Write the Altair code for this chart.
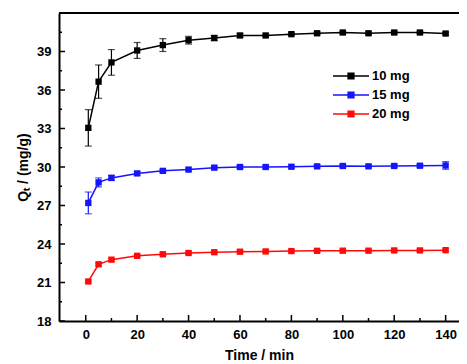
import altair as alt
import pandas as pd

time = [1, 5, 10, 20, 30, 40, 50, 60, 70, 80, 90, 100, 110, 120, 130, 140]
q10 = [33.05, 36.65, 38.15, 39.08, 39.5, 39.88, 40.05, 40.25, 40.25, 40.35, 40.42, 40.48, 40.42, 40.48, 40.48, 40.4]
e10 = [1.42, 1.3, 1.0, 0.62, 0.5, 0.3, 0.2, 0.15, 0.1, 0.1, 0.1, 0.1, 0.1, 0.1, 0.1, 0.1]
q15 = [27.2, 28.8, 29.15, 29.5, 29.7, 29.8, 29.95, 30.0, 30.0, 30.02, 30.05, 30.08, 30.05, 30.08, 30.1, 30.12]
e15 = [0.85, 0.35, 0.2, 0.15, 0.12, 0.12, 0.12, 0.12, 0.12, 0.12, 0.12, 0.12, 0.12, 0.12, 0.12, 0.3]
q20 = [21.08, 22.42, 22.78, 23.08, 23.2, 23.3, 23.36, 23.4, 23.42, 23.45, 23.47, 23.48, 23.48, 23.5, 23.5, 23.52]
e20 = [0.1] * 16

series = ["10 mg", "15 mg", "20 mg"]
colors = ["#000000", "#1414ff", "#ff0a0a"]

x_major = [0, 20, 40, 60, 80, 100, 120, 140]
x_minor = [10, 30, 50, 70, 90, 110, 130]
y_major = [18, 21, 24, 27, 30, 33, 36, 39]
y_minor = [19.5, 22.5, 25.5, 28.5, 31.5, 34.5, 37.5, 40.5]

rows = []
for name, qs, es in zip(series, [q10, q15, q20], [e10, e15, e20]):
    for t, q, e in zip(time, qs, es):
        rows.append({"t": t, "q": q, "lo": q - e, "hi": q + e, "s": name})
df = pd.DataFrame(rows)

W, H = 400, 308
FONT = "Liberation Sans"

xs = alt.Scale(domain=[-10.4, 145.2], nice=False, zero=False)
ys = alt.Scale(domain=[18, 42], nice=False, zero=False)
cs = alt.Scale(domain=series, range=colors)

sym_path = "M-2,0H-0.3M0.3,0H2M-0.33,-0.33H0.33V0.33H-0.33Z"

legend = alt.Legend(
    title=None, orient="none", legendX=282, legendY=53,
    symbolType=sym_path, symbolSize=324, symbolStrokeWidth=1.3,
    labelFont=FONT, labelFontSize=13, labelFontWeight="bold", labelColor="#000",
    labelOffset=11, rowPadding=2, padding=0,
)

base = alt.Chart(df)

x_enc = alt.X("t:Q", scale=xs, axis=alt.Axis(
    values=x_major, title="Time / min", ticks=False, domainWidth=2, domainColor="#000",
    labelFont=FONT, labelFontSize=13, labelFontWeight="bold", labelColor="#000",
    labelPadding=7, titleFont=FONT, titleFontSize=14, titleFontWeight="bold",
    titleColor="#000", titlePadding=7, grid=False))
y_enc = alt.Y("q:Q", scale=ys, axis=alt.Axis(
    values=y_major, title="Qₜ / (mg/g)", ticks=False, domainWidth=2, domainColor="#000",
    labelFont=FONT, labelFontSize=13, labelFontWeight="bold", labelColor="#000",
    labelPadding=8, titleFont=FONT, titleFontSize=14, titleFontWeight="bold",
    titleColor="#000", titlePadding=6, grid=False))

err = base.mark_rule(strokeWidth=1.2).encode(
    x="t:Q", y="lo:Q", y2="hi:Q",
    color=alt.Color("s:N", scale=cs, legend=None))
caps_lo = base.mark_tick(thickness=1.2, size=7, orient="horizontal").encode(
    x="t:Q", y="lo:Q", color=alt.Color("s:N", scale=cs, legend=None))
caps_hi = base.mark_tick(thickness=1.2, size=7, orient="horizontal").encode(
    x="t:Q", y="hi:Q", color=alt.Color("s:N", scale=cs, legend=None))

line = base.mark_line(strokeWidth=1.5).encode(
    x=x_enc, y=y_enc, color=alt.Color("s:N", scale=cs, legend=legend))
pts = base.mark_point(shape="square", filled=True, size=40, opacity=1).encode(
    x="t:Q", y="q:Q", color=alt.Color("s:N", scale=cs, legend=legend))

xmaj = pd.DataFrame({"v": x_major})
xmin = pd.DataFrame({"v": x_minor})
ymaj = pd.DataFrame({"v": y_major})
ymin = pd.DataFrame({"v": y_minor})

xt1 = alt.Chart(xmaj).mark_rule(color="#000", strokeWidth=1.5).encode(
    x=alt.X("v:Q", scale=xs), y=alt.value(H), y2=alt.value(H - 6))
xt2 = alt.Chart(xmin).mark_rule(color="#000", strokeWidth=1.5).encode(
    x=alt.X("v:Q", scale=xs), y=alt.value(H), y2=alt.value(H - 3))
yt1 = alt.Chart(ymaj).mark_rule(color="#000", strokeWidth=1.5).encode(
    y=alt.Y("v:Q", scale=ys), x=alt.value(0), x2=alt.value(6))
yt2 = alt.Chart(ymin).mark_rule(color="#000", strokeWidth=1.5).encode(
    y=alt.Y("v:Q", scale=ys), x=alt.value(0), x2=alt.value(3))
top = alt.Chart(xmaj).mark_rule(color="#000", strokeWidth=2).encode(
    x=alt.value(0), x2=alt.value(W), y=alt.value(0))

chart = alt.layer(line, err, caps_lo, caps_hi, pts, xt1, xt2, yt1, yt2, top).properties(
    width=W, height=H,
    autosize=alt.AutoSizeParams(type="none"),
    padding={"left": 51, "top": 5, "right": 0, "bottom": 43},
).configure_view(stroke=None).configure(background="#ffffff")

chart.save("out.html", embed_options={"renderer": "svg", "actions": False})
